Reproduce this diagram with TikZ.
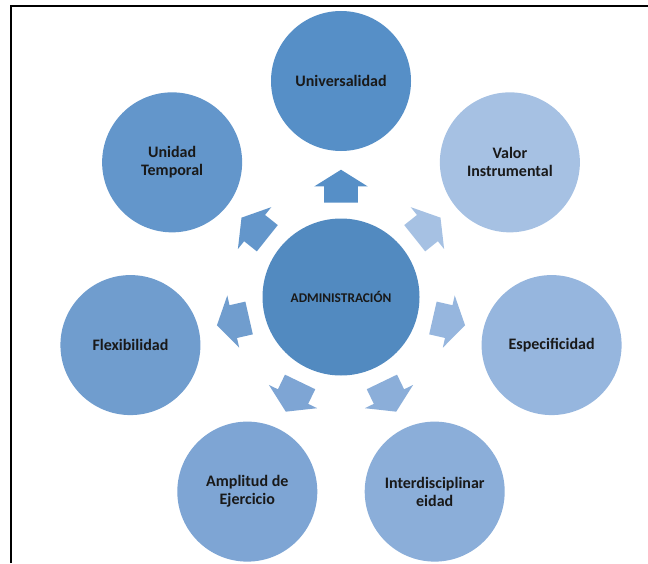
\documentclass[tikz,border=0pt]{standalone}
\usepackage{fontspec}
\setmainfont{Carlito}
\usepackage{tikz}
\usetikzlibrary{shapes.arrows,calc}
\usepackage{xcolor}

\definecolor{azulcentro}{RGB}{82,138,192}
\definecolor{azuluniv}{RGB}{86,143,199}
\definecolor{azulvalor}{RGB}{166,193,227}
\definecolor{azulespec}{RGB}{150,182,222}
\definecolor{azulinter}{RGB}{139,174,217}
\definecolor{azulampl}{RGB}{126,165,212}
\definecolor{azulflex}{RGB}{112,157,206}
\definecolor{azulunid}{RGB}{99,150,203}

\begin{document}
\begin{tikzpicture}[
  idea/.style={circle,minimum size=105pt,inner sep=0pt,align=center,text=black!90,
    font=\fontsize{12}{13.5}\selectfont\bfseries},
  flecha/.style={single arrow,minimum height=24.75pt,minimum width=0pt,inner xsep=0pt,
    inner ysep=12.4pt,single arrow head extend=7.5pt,single arrow tip angle=116,anchor=tail}
]
  % marco
  \useasboundingbox (0,0) rectangle (486pt,-422.25pt);
  \draw[line width=1.5pt] (7.9pt,-422.25pt) -- (7.9pt,-4.35pt) -- (486pt,-4.35pt);

  % centro
  \node[circle,minimum size=117.75pt,inner sep=0pt,fill=azulcentro,text=black!90,
    font=\fontsize{10}{12}\selectfont\bfseries] (admin) at (255.75pt,-222.75pt) {ADMINISTRACIÓN};

  % circulos exteriores
  \node[idea,fill=azuluniv] (univ) at ($(admin)+(90:162pt)$) {Universalidad};
  \node[idea,fill=azulvalor] (valor) at ($(admin)+(38.57:162pt)$) {Valor\\Instrumental};
  \node[idea,fill=azulespec] (espec) at ($(admin)+(-12.86:162pt)$) {Especificidad};
  \node[idea,fill=azulinter] (inter) at ($(admin)+(-64.29:162pt)$) {Interdisciplinar\\eidad};
  \node[idea,fill=azulampl] (ampl) at ($(admin)+(-115.71:162pt)$) {Amplitud de\\Ejercicio};
  \node[idea,fill=azulflex] (flex) at ($(admin)+(-167.14:162pt)$) {Flexibilidad};
  \node[idea,fill=azulunid] (unid) at ($(admin)+(141.43:162pt)$) {Unidad\\Temporal};

  % flechas
  \node[flecha,fill=azuluniv,rotate=90] (f-univ) at ($(admin)+(90:70.5pt)$) {};
  \node[flecha,fill=azulvalor,rotate=38.57] (f-valor) at ($(admin)+(38.57:70.5pt)$) {};
  \node[flecha,fill=azulespec,rotate=-12.86] (f-espec) at ($(admin)+(-12.86:70.5pt)$) {};
  \node[flecha,fill=azulinter,rotate=-64.29] (f-inter) at ($(admin)+(-64.29:70.5pt)$) {};
  \node[flecha,fill=azulampl,rotate=-115.71] (f-ampl) at ($(admin)+(-115.71:70.5pt)$) {};
  \node[flecha,fill=azulflex,rotate=-167.14] (f-flex) at ($(admin)+(-167.14:70.5pt)$) {};
  \node[flecha,fill=azulunid,rotate=141.43] (f-unid) at ($(admin)+(141.43:70.5pt)$) {};
\end{tikzpicture}
\end{document}
